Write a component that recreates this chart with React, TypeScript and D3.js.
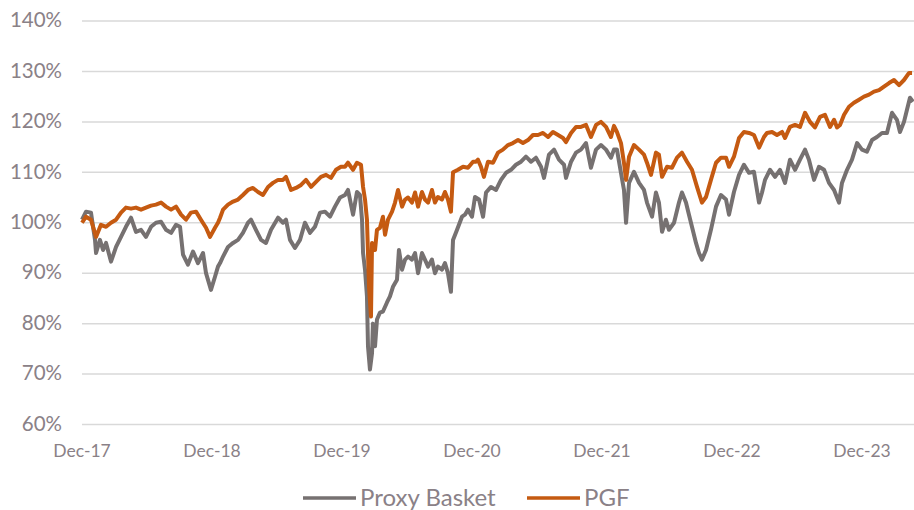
import React, { useEffect, useRef } from 'react';
import * as d3 from 'd3';

// x = years elapsed since Dec-17, y = indexed value (%)
const pgfData: [number, number][] = [
  [0, 100], [0.031, 101.2], [0.069, 100.6], [0.108, 97.2], [0.146, 99.6], [0.185, 99.2], [0.223, 100],
  [0.262, 100.6], [0.3, 102], [0.338, 103], [0.377, 102.8], [0.415, 103], [0.454, 102.6], [0.492, 103],
  [0.531, 103.4], [0.569, 103.6], [0.608, 104], [0.646, 103.2], [0.685, 102.6], [0.723, 103.2], [0.762, 101.6],
  [0.8, 100.6], [0.838, 102], [0.877, 102.2], [0.915, 100.6], [0.954, 99], [0.985, 97.2], [1.023, 99],
  [1.046, 100], [1.062, 101], [1.085, 102.6], [1.123, 103.6], [1.162, 104.2], [1.2, 104.6], [1.238, 105.5],
  [1.277, 106.5], [1.315, 106.9], [1.354, 106.1], [1.392, 105.5], [1.431, 107.1], [1.469, 107.9], [1.508, 108.5],
  [1.546, 108.5], [1.569, 109.1], [1.608, 106.5], [1.646, 106.9], [1.685, 107.5], [1.723, 108.5], [1.762, 107.1],
  [1.8, 108.1], [1.838, 109.1], [1.877, 109.5], [1.915, 108.9], [1.954, 110.5], [1.992, 111.1], [2.023, 111.1],
  [2.046, 111.9], [2.085, 110.5], [2.115, 111.9], [2.146, 111.5], [2.162, 107.1], [2.177, 104.6], [2.192, 100.6],
  [2.208, 87.3], [2.223, 81.4], [2.231, 96], [2.254, 94.6], [2.269, 98.6], [2.292, 99], [2.315, 101.2],
  [2.331, 97.6], [2.354, 100.6], [2.385, 102.2], [2.408, 104], [2.431, 106.5], [2.462, 103.2], [2.485, 104.6],
  [2.508, 105], [2.538, 104], [2.562, 106], [2.585, 103.2], [2.615, 106.1], [2.638, 104.6], [2.662, 104],
  [2.692, 106.5], [2.715, 104], [2.738, 105.1], [2.769, 104.6], [2.792, 106.1], [2.815, 104.6], [2.838, 102.2],
  [2.854, 110], [2.892, 110.5], [2.931, 111.1], [2.969, 110.9], [3.008, 112.1], [3.031, 112.1], [3.046, 112.5],
  [3.069, 111.1], [3.092, 109.1], [3.123, 112.1], [3.162, 111.9], [3.2, 113.9], [3.238, 114.5], [3.277, 115.4],
  [3.315, 115.8], [3.354, 116.4], [3.392, 115.8], [3.431, 116.4], [3.469, 117.4], [3.508, 117.4], [3.546, 117.8],
  [3.585, 117], [3.623, 118], [3.662, 117.4], [3.7, 116.8], [3.723, 116], [3.762, 117.8], [3.8, 119],
  [3.838, 119], [3.877, 119.4], [3.915, 117], [3.954, 119.4], [3.992, 120], [4.031, 119], [4.069, 117],
  [4.092, 119.2], [4.115, 118], [4.146, 115.8], [4.169, 111.9], [4.185, 108.5], [4.208, 113.1], [4.246, 115.4],
  [4.285, 114.5], [4.323, 113.5], [4.346, 111.9], [4.377, 109.5], [4.415, 113.9], [4.438, 113.5], [4.462, 109.1],
  [4.5, 111.1], [4.538, 110.9], [4.577, 112.9], [4.615, 113.9], [4.654, 112.1], [4.692, 110.5], [4.731, 107.1],
  [4.769, 104], [4.8, 105.1], [4.838, 108.5], [4.877, 111.9], [4.915, 112.9], [4.954, 112.9], [4.977, 111.1],
  [5.015, 113.1], [5.054, 116.8], [5.092, 118], [5.131, 117.8], [5.169, 117.4], [5.208, 114.9], [5.246, 117],
  [5.269, 117.8], [5.308, 118], [5.346, 117.4], [5.385, 118], [5.408, 116.8], [5.446, 119], [5.485, 119.4],
  [5.523, 119], [5.562, 121.8], [5.6, 120], [5.638, 118.9], [5.677, 121], [5.715, 121.4], [5.754, 119],
  [5.785, 120.4], [5.808, 118.9], [5.831, 119.4], [5.862, 121.4], [5.9, 123], [5.938, 123.8], [5.977, 124.4],
  [6.015, 125], [6.054, 125.4], [6.092, 126], [6.131, 126.3], [6.169, 127], [6.208, 127.7], [6.246, 128.3],
  [6.285, 127.3], [6.323, 128.3], [6.362, 129.7], [6.385, 129.7],
];

const proxyData: [number, number][] = [
  [0, 100.6], [0.031, 102.2], [0.069, 102], [0.1, 96.6], [0.108, 94], [0.138, 96.6], [0.162, 94.6],
  [0.185, 96], [0.223, 92.3], [0.262, 95.2], [0.3, 97.2], [0.338, 99.2], [0.377, 101], [0.415, 98.2],
  [0.454, 98.6], [0.492, 97.2], [0.531, 99.2], [0.569, 100], [0.608, 100.2], [0.646, 98.6], [0.685, 98],
  [0.723, 99.6], [0.754, 99.2], [0.777, 93.7], [0.815, 91.7], [0.854, 94.3], [0.892, 92], [0.931, 94],
  [0.954, 90], [0.992, 86.7], [1.023, 89.3], [1.046, 91.3], [1.062, 92], [1.085, 93.3], [1.123, 95.2],
  [1.162, 96], [1.2, 96.6], [1.238, 98], [1.277, 100], [1.3, 100.6], [1.338, 98.6], [1.377, 96.6],
  [1.415, 96], [1.454, 98.6], [1.508, 101], [1.546, 100], [1.569, 100.6], [1.6, 96.6], [1.638, 95],
  [1.677, 96.6], [1.715, 100], [1.754, 98], [1.792, 99.2], [1.831, 102], [1.869, 102.2], [1.908, 101.2],
  [1.946, 103.2], [1.985, 105], [2.023, 105.5], [2.046, 106.5], [2.085, 101.6], [2.115, 106.1], [2.138, 105.5],
  [2.154, 100.6], [2.162, 94], [2.177, 90.7], [2.192, 85.4], [2.2, 75.5], [2.215, 70.9], [2.231, 74.2],
  [2.238, 80], [2.254, 75.5], [2.269, 80.8], [2.292, 82.2], [2.315, 82.4], [2.346, 84.2], [2.369, 85.4],
  [2.392, 87.3], [2.423, 88.7], [2.438, 94.6], [2.462, 90.7], [2.485, 92.7], [2.508, 93.3], [2.538, 92.7],
  [2.562, 94], [2.585, 90], [2.615, 94], [2.638, 92.7], [2.662, 91.3], [2.692, 92.7], [2.715, 90],
  [2.738, 91.3], [2.769, 90.7], [2.792, 92], [2.815, 90], [2.838, 86.3], [2.854, 96.6], [2.885, 98.6],
  [2.923, 101.2], [2.946, 101.6], [2.969, 102.6], [3, 101.2], [3.023, 105.1], [3.054, 104.6], [3.085, 101.2],
  [3.108, 106], [3.146, 107.1], [3.185, 106.5], [3.223, 108.5], [3.262, 109.9], [3.3, 110.5], [3.338, 111.5],
  [3.377, 112.1], [3.415, 113.1], [3.454, 112.1], [3.492, 112.9], [3.531, 111.1], [3.554, 108.9], [3.592, 113.5],
  [3.631, 114.5], [3.669, 112.5], [3.708, 111.5], [3.723, 108.9], [3.762, 112.1], [3.8, 113.9], [3.838, 114.5],
  [3.877, 115.8], [3.915, 110.9], [3.954, 114.5], [3.992, 115.4], [4.031, 114.5], [4.069, 112.9], [4.092, 114.5],
  [4.115, 114.5], [4.146, 109.9], [4.169, 106.5], [4.185, 100], [4.208, 107.9], [4.246, 110.1], [4.285, 107.9],
  [4.323, 106.5], [4.346, 104], [4.385, 101.2], [4.415, 106], [4.438, 104], [4.462, 98.2], [4.492, 100.6],
  [4.515, 98.6], [4.554, 100], [4.592, 104], [4.615, 106], [4.646, 104], [4.669, 101.6], [4.692, 99.2],
  [4.723, 96], [4.746, 94], [4.769, 92.7], [4.8, 94.6], [4.838, 98.6], [4.877, 103.2], [4.915, 105.5],
  [4.954, 104.6], [4.977, 101.6], [5.015, 106.1], [5.054, 109.5], [5.092, 111.5], [5.131, 109.9], [5.169, 110.1],
  [5.208, 104], [5.231, 106], [5.254, 108.5], [5.292, 110.5], [5.331, 109.1], [5.369, 110.5], [5.408, 107.9],
  [5.446, 112.5], [5.485, 110.5], [5.523, 112.5], [5.562, 114.5], [5.592, 112.5], [5.631, 108.5], [5.669, 111.1],
  [5.708, 110.5], [5.746, 107.9], [5.785, 106.5], [5.823, 104], [5.846, 107.9], [5.885, 110.5], [5.923, 112.5],
  [5.962, 115.8], [6, 114.5], [6.038, 114.1], [6.077, 116.4], [6.115, 117], [6.154, 117.8], [6.192, 117.8],
  [6.231, 121.8], [6.269, 120.4], [6.292, 118], [6.323, 120], [6.346, 122.4], [6.369, 124.8], [6.392, 124],
];

const yTicks = [60, 70, 80, 90, 100, 110, 120, 130, 140];
const xTickLabels = ['Dec-17', 'Dec-18', 'Dec-19', 'Dec-20', 'Dec-21', 'Dec-22', 'Dec-23'];
const seriesNames = ['Proxy Basket', 'PGF'];
const seriesColors = ['#767171', '#c55a11'];

const App = () => {
  const ref = useRef<SVGSVGElement>(null);

  useEffect(() => {
    const width = 914, height = 510;
    const margin = { top: 21, right: 0, bottom: 86, left: 82 };
    const textColor = '#8a8187';
    const font = 'Lato, sans-serif';

    const svg = d3.select(ref.current);
    svg.selectAll('*').remove();

    const x = d3.scaleLinear().domain([0, 6.4]).range([margin.left, width - margin.right]);
    const y = d3.scaleLinear().domain([60, 140]).range([height - margin.bottom + 0.5, margin.top]);

    // gridlines
    svg.append('g')
      .selectAll('line')
      .data(yTicks)
      .enter().append('line')
      .attr('x1', x(0))
      .attr('x2', x(6.4))
      .attr('y1', d => y(d))
      .attr('y2', d => y(d))
      .attr('stroke', '#d9d9d9')
      .attr('stroke-width', 1.5);

    // y labels
    svg.append('g')
      .selectAll('text')
      .data(yTicks)
      .enter().append('text')
      .attr('x', 62)
      .attr('y', d => y(d) + 1)
      .attr('text-anchor', 'end')
      .attr('dominant-baseline', 'middle')
      .style('font', `20.5px ${font}`)
      .attr('fill', textColor)
      .text(d => d + '%');

    // x labels
    svg.append('g')
      .selectAll('text')
      .data(xTickLabels)
      .enter().append('text')
      .attr('x', (d, i) => x(i))
      .attr('y', 457)
      .attr('text-anchor', 'middle')
      .style('font', `17.5px ${font}`)
      .attr('fill', textColor)
      .text(d => d);

    const line = d3.line<[number, number]>()
      .x(d => x(d[0]))
      .y(d => y(d[1]));

    [proxyData, pgfData].forEach((data, i) => {
      svg.append('path')
        .datum(data)
        .attr('fill', 'none')
        .attr('stroke', seriesColors[i])
        .attr('stroke-width', 4)
        .attr('stroke-linejoin', 'round')
        .attr('d', line);
    });

    // legend
    const legendX = [303, 527];
    const legend = svg.append('g');
    seriesNames.forEach((name, i) => {
      legend.append('line')
        .attr('x1', legendX[i])
        .attr('x2', legendX[i] + 53)
        .attr('y1', 498)
        .attr('y2', 498)
        .attr('stroke', seriesColors[i])
        .attr('stroke-width', 3.5);
      legend.append('text')
        .attr('x', legendX[i] + 57)
        .attr('y', 506)
        .style('font', `24px ${font}`)
        .attr('fill', textColor)
        .text(name);
    });
  }, []);

  return (
    <svg ref={ref} width={914} height={510}
      style={{ position: 'absolute', left: 0, top: 0, background: '#fff' }} />
  );
};

export default App;
